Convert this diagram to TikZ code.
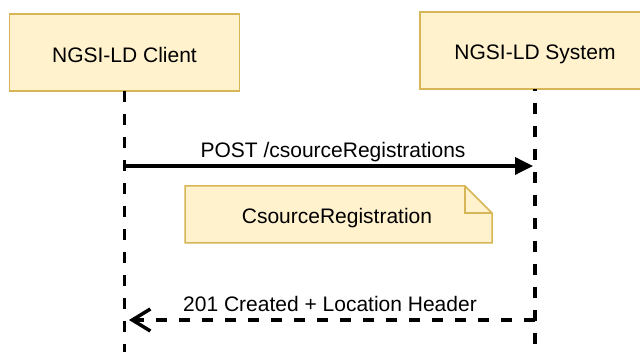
\documentclass[tikz,border=0pt]{standalone}
\usepackage{fontspec}
\setmainfont{Liberation Sans}
\usetikzlibrary{arrows.meta}
\definecolor{boxfill}{HTML}{FFF2CC}
\definecolor{boxline}{HTML}{D6B656}
\begin{document}
\begin{tikzpicture}[x=1pt,y=-1pt,
  actorbox/.style={draw=boxline,fill=boxfill,line width=1.5pt,minimum width=230pt,minimum height=77pt,inner sep=0pt,outer sep=0pt},
  lbl/.style={font=\fontsize{21}{25}\selectfont,inner sep=0pt,anchor=base},
  lifeline/.style={line width=3.5pt,dash pattern=on 11pt off 12pt},
  notearea/.style={minimum width=307pt,minimum height=57pt,inner sep=0pt,outer sep=0pt},
  notepath/.style={draw=boxline,fill=boxfill,line width=1.5pt,line join=miter},
  msg/.style={line width=3.5pt}]
\useasboundingbox (0,0) rectangle (640,352);
\clip (0,0) rectangle (640,352);
% actors
\node[actorbox] (client) at (124.5,52.5) {};
\node[actorbox] (system) at (535,50.5) {};
\node[lbl] (clientlbl) at (124.5,62.3) {NGSI-LD Client};
\node[lbl] (systemlbl) at (535,60) {NGSI-LD System};
% lifeline ends
\coordinate (clientend) at (124.5,352);
\coordinate (systemend) at (535,352);
\draw[lifeline] (client.south) -- (clientend);
\draw[lifeline,dash phase=9pt] (system.south) -- (systemend);
% request
\coordinate (reqstart) at (124.5,166);
\coordinate (reqend) at (533,166);
\draw[msg,-{Triangle[length=18pt,width=17pt]}] (reqstart) -- (reqend);
\node[lbl] (reqlbl) at (333,157.5) {POST /csourceRegistrations};
% note
\node[notearea] (note) at (338.5,214.5) {};
\filldraw[notepath] (note.south west) -- (note.north west) -- ([xshift=-27pt]note.north east) -- ([yshift=-27pt]note.north east) -- (note.south east) -- cycle;
\draw[notepath,fill=none] ([xshift=-27pt]note.north east) -- ([xshift=-27pt,yshift=-27pt]note.north east) -- ([yshift=-27pt]note.north east);
\node[lbl] (notelbl) at (337,224) {CsourceRegistration};
% response
\coordinate (respstart) at (535,320);
\coordinate (respend) at (129,320);
\draw[msg,dash pattern=on 11pt off 12pt,-{Straight Barb[length=18pt,width=22pt]}] (respstart) -- (respend);
\node[lbl] (resplbl) at (330,312) {201 Created + Location Header};
\end{tikzpicture}
\end{document}
